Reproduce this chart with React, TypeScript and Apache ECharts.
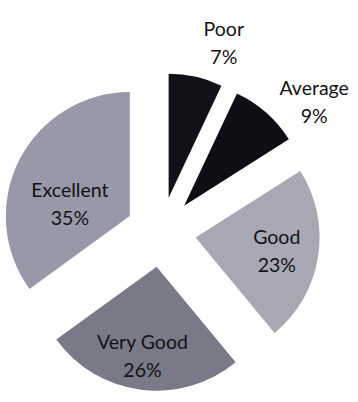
import React, { useEffect, useRef } from "react";
import * as echarts from "echarts";

// Ratings, clockwise from 12 o'clock
const categories = ["Poor", "Average", "Good", "Very Good", "Excellent"];
const shares = [7, 9, 23, 26, 35];

const sliceColors = ["#111117", "#0e0e15", "#a7a8b3", "#787a88", "#9799a9"];
// Nudges for each rating's text, [dx, dy] in px
const labelNudges: Record<string, [number, number]> = {
  Poor: [41, -92],
  Average: [87, -55],
  Good: [17, 3],
  "Very Good": [-6, 24],
  Excellent: [-2, 17],
};

export default function App() {
  const ref = useRef<HTMLDivElement>(null);

  useEffect(() => {
    if (!ref.current) return;
    const chart = echarts.init(ref.current, undefined, { renderer: "svg" });

    const data = categories.map((name, i) => ({
      name,
      value: shares[i],
      selected: true,
      itemStyle: { color: sliceColors[i] },
    }));

    chart.setOption({
      animation: false,
      backgroundColor: "#ffffff",
      series: [
        {
          type: "pie",
          center: [161, 232],
          radius: [0, 124],
          startAngle: 90,
          clockwise: true,
          selectedMode: "multiple",
          selectedOffset: 35,
          avoidLabelOverlap: false,
          label: {
            show: true,
            position: "inside",
            formatter: "{b}\n{c}%",
            color: "#121216",
            fontFamily: "Lato, 'Open Sans', sans-serif",
            fontSize: 19.5,
            lineHeight: 28,
            align: "center",
          },
          labelLine: { show: false },
          labelLayout: (params: any) => {
            const n = labelNudges[categories[params.dataIndex]];
            return { dx: n[0], dy: n[1] };
          },
          itemStyle: { borderWidth: 0 },
          select: { itemStyle: { borderWidth: 0 }, label: { color: "#121216" } },
          emphasis: { disabled: true },
          data,
        },
      ],
    });

    return () => chart.dispose();
  }, []);

  return (
    <div
      ref={ref}
      style={{ position: "fixed", left: 0, top: 0, width: 358, height: 402 }}
    />
  );
}
